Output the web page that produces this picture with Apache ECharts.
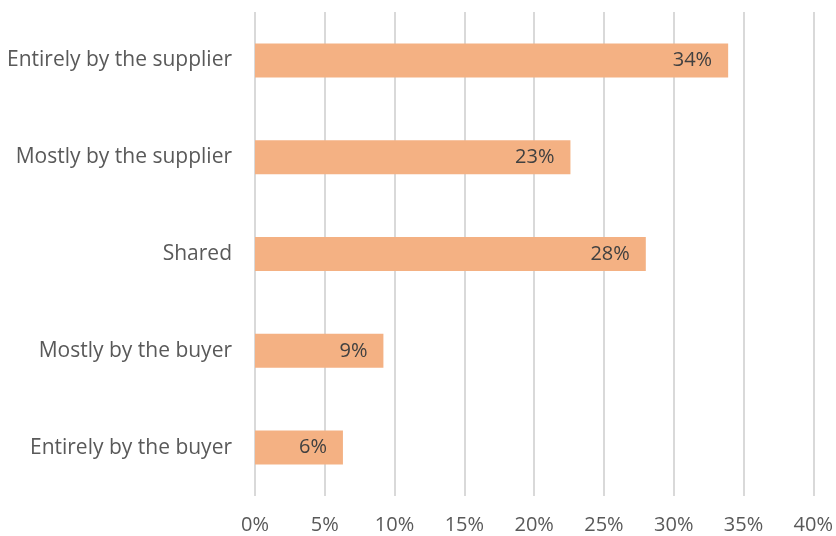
<!DOCTYPE html>
<html>
<head>
<meta charset="utf-8">
<script src="https://cdn.jsdelivr.net/npm/echarts@6/dist/echarts.min.js"></script>
<style>
  html, body { margin: 0; padding: 0; background: #fff; }
  #main { width: 836px; height: 536px; }
</style>
</head>
<body>
<div id="main"></div>
<script>
var chart = echarts.init(document.getElementById('main'));

// categories, top to bottom
var categories = ['Entirely by the supplier', 'Mostly by the supplier', 'Shared', 'Mostly by the buyer', 'Entirely by the buyer'];
var shares = [33.9, 22.6, 28.0, 9.2, 6.3]; // percent

var TEXT = '#595959';
var FONT = 'Open Sans';

var option = {
    animation: false,
    grid: {
        left: 255,
        right: 21,
        top: 12,
        bottom: 40
    },
    xAxis: {
        type: 'value',
        min: 0,
        max: 40,
        interval: 5,
        axisLine: { show: false },
        axisTick: { show: false },
        axisLabel: {
            color: TEXT,
            fontFamily: FONT,
            fontSize: 20,
            margin: 19,
            formatter: '{value}%'
        },
        splitLine: {
            lineStyle: { color: '#D9D9D9', width: 2 }
        }
    },
    yAxis: {
        type: 'category',
        inverse: true,
        data: categories,
        axisLine: { show: false },
        axisTick: { show: false },
        axisLabel: {
            color: TEXT,
            fontFamily: FONT,
            fontSize: 21,
            margin: 23
        }
    },
    series: [{
        type: 'bar',
        data: shares,
        barWidth: 34,
        itemStyle: { color: '#F4B183' },
        label: {
            show: true,
            position: 'insideRight',
            distance: 16,
            color: '#404040',
            fontFamily: FONT,
            fontSize: 20,
            formatter: function (p) { return Math.round(p.value) + '%'; }
        }
    }]
};

chart.setOption(option);
</script>
</body>
</html>
